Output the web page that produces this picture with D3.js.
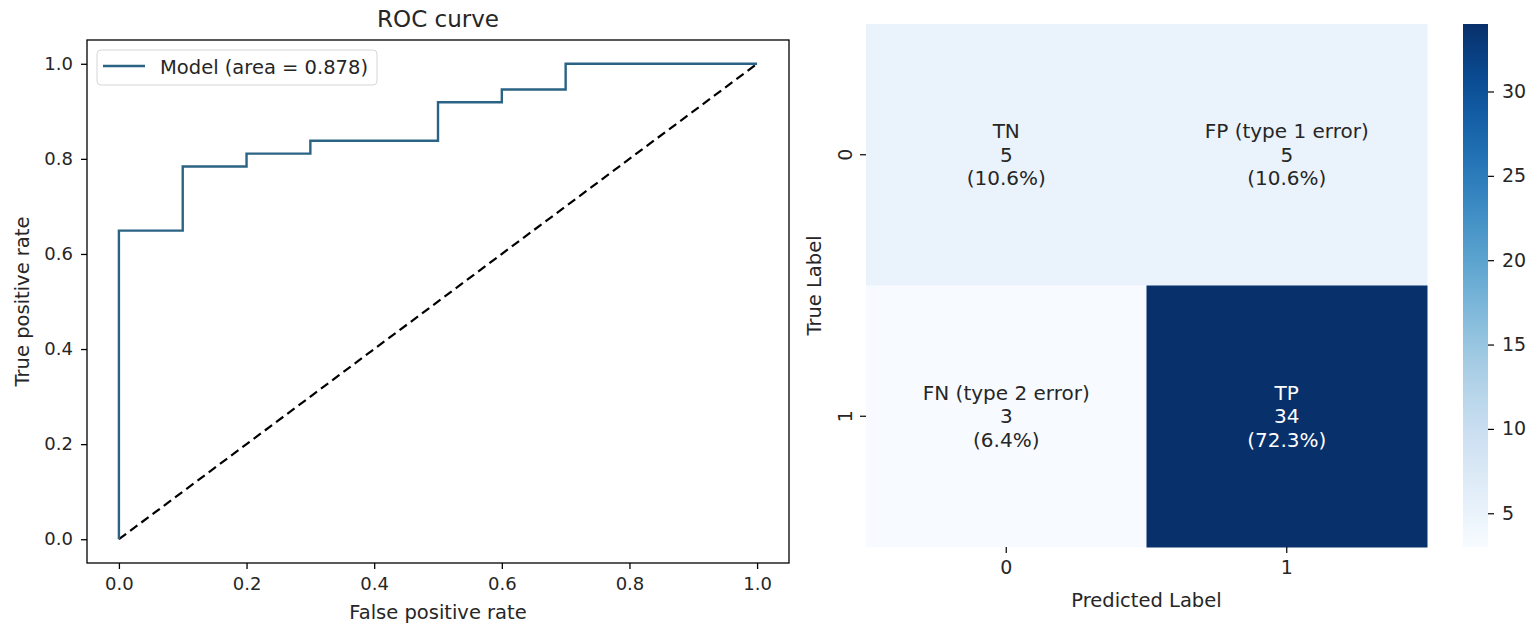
<!DOCTYPE html>
<html>
<head>
<meta charset="utf-8">
<script src="https://cdn.jsdelivr.net/npm/d3@7"></script>
<style>
  html, body { margin: 0; padding: 0; background: #fff; }
  svg { display: block; font-family: "DejaVu Sans", sans-serif; }
</style>
</head>
<body>
<svg id="chart" width="1535" height="631"></svg>
<script>
// ---------- Data ----------
const rocFpr = [0, 0, 0.1, 0.1, 0.2, 0.2, 0.3, 0.3, 0.5, 0.5, 0.6, 0.6, 0.7, 0.7, 1.0];
const rocTpr = [0, 0.649, 0.649, 0.784, 0.784, 0.811, 0.811, 0.838, 0.838, 0.919, 0.919, 0.946, 0.946, 1.0, 1.0];
const rocTicks = [0, 0.2, 0.4, 0.6, 0.8, 1.0];
const legendLabel = "Model (area = 0.878)";

const cmRowLabels = ["0", "1"];
const cmColLabels = ["0", "1"];
const cmNames = [["TN", "FP (type 1 error)"], ["FN (type 2 error)", "TP"]];
const cmCounts = [[5, 5], [3, 34]];
const cbarTicks = [5, 10, 15, 20, 25, 30];

// ---------- Setup ----------
const svg = d3.select("#chart");
const TICK_FS = 18;
const LABEL_FS = 19.5;
const textCol = "#262626";

// ---------- ROC chart ----------
const L = {left: 87, right: 789, top: 40, bottom: 563};
const x = d3.scaleLinear().domain([-0.05, 1.05]).range([L.left, L.right]);
const y = d3.scaleLinear().domain([-0.05, 1.05]).range([L.bottom, L.top]);

const g1 = svg.append("g");

// diagonal
g1.append("line")
  .attr("x1", x(0)).attr("y1", y(0)).attr("x2", x(1)).attr("y2", y(1))
  .attr("stroke", "#000").attr("stroke-width", 2.2)
  .attr("stroke-dasharray", "9,5");

// roc line
const rocPts = rocFpr.map((f, i) => [f, rocTpr[i]]);
g1.append("path")
  .attr("d", d3.line().x(d => x(d[0])).y(d => y(d[1]))(rocPts))
  .attr("fill", "none").attr("stroke", "#2b6385").attr("stroke-width", 2.4);

// axes
const xAxis = d3.axisBottom(x).tickValues(rocTicks).tickFormat(d3.format(".1f")).tickSize(6).tickPadding(8);
const yAxis = d3.axisLeft(y).tickValues(rocTicks).tickFormat(d3.format(".1f")).tickSize(6).tickPadding(8);
const gx = g1.append("g").attr("transform", `translate(0,${L.bottom})`).call(xAxis);
const gy = g1.append("g").attr("transform", `translate(${L.left},0)`).call(yAxis);
[gx, gy].forEach(a => {
  a.select(".domain").remove();
  a.selectAll("line").attr("stroke", "#000").attr("stroke-width", 1.3);
  a.selectAll("text").attr("font-size", TICK_FS).attr("fill", textCol).attr("font-family", "DejaVu Sans");
});

// frame
g1.append("rect")
  .attr("x", L.left).attr("y", L.top)
  .attr("width", L.right - L.left).attr("height", L.bottom - L.top)
  .attr("fill", "none").attr("stroke", "#000").attr("stroke-width", 1.3);

// title & labels
g1.append("text").attr("x", (L.left + L.right) / 2).attr("y", 27)
  .attr("text-anchor", "middle").attr("font-size", 23).attr("fill", textCol).text("ROC curve");
g1.append("text").attr("x", (L.left + L.right) / 2).attr("y", 619)
  .attr("text-anchor", "middle").attr("font-size", LABEL_FS).attr("fill", textCol).text("False positive rate");
g1.append("text").attr("transform", `translate(29,${(L.top + L.bottom) / 2}) rotate(-90)`)
  .attr("text-anchor", "middle").attr("font-size", LABEL_FS).attr("fill", textCol).text("True positive rate");

// legend
const lg = g1.append("g");
lg.append("rect").attr("x", 97).attr("y", 50).attr("width", 280).attr("height", 35)
  .attr("rx", 4).attr("fill", "#fff").attr("fill-opacity", 0.8)
  .attr("stroke", "#d6d6d6").attr("stroke-width", 1);
lg.append("line").attr("x1", 103).attr("x2", 145).attr("y1", 66).attr("y2", 66)
  .attr("stroke", "#2b6385").attr("stroke-width", 2.4);
lg.append("text").attr("x", 160).attr("y", 73.5).attr("font-size", LABEL_FS).attr("fill", textCol).text(legendLabel);

// ---------- Confusion matrix ----------
const H = {left: 866, right: 1427, top: 24, bottom: 547};
const hx = d3.scaleBand().domain(cmColLabels).range([H.left, H.right]);
const hy = d3.scaleBand().domain(cmRowLabels).range([H.top, H.bottom]);
const allCounts = cmCounts.flat();
const total = d3.sum(allCounts);
const vmin = d3.min(allCounts), vmax = d3.max(allCounts);
const color = d3.scaleSequential(d3.interpolateBlues).domain([vmin, vmax]);

const g2 = svg.append("g");
const cells = [];
cmRowLabels.forEach((r, i) => cmColLabels.forEach((c, j) => {
  cells.push({r, c, name: cmNames[i][j], v: cmCounts[i][j]});
}));

g2.selectAll("rect.cell").data(cells).enter().append("rect")
  .attr("class", "cell")
  .attr("x", d => hx(d.c)).attr("y", d => hy(d.r))
  .attr("width", hx.bandwidth() + 0.5).attr("height", hy.bandwidth() + 0.5)
  .attr("fill", d => color(d.v));

const cellText = g2.selectAll("text.cell").data(cells).enter().append("text")
  .attr("class", "cell")
  .attr("text-anchor", "middle")
  .attr("font-size", 20)
  .attr("fill", d => (d.v - vmin) / (vmax - vmin) > 0.6 ? "#ffffff" : textCol);
cellText.each(function(d) {
  const cx = hx(d.c) + hx.bandwidth() / 2;
  const cy = hy(d.r) + hy.bandwidth() / 2;
  const lines = [d.name, String(d.v), `(${(d.v / total * 100).toFixed(1)}%)`];
  lines.forEach((t, k) => {
    d3.select(this).append("tspan").attr("x", cx).attr("y", cy + (k - 1) * 23.5 + 7).text(t);
  });
});

// heatmap axes
const hxAxis = d3.axisBottom(hx).tickSize(6).tickPadding(8);
const hyAxis = d3.axisLeft(hy).tickSize(6).tickPadding(8);
const ghx = g2.append("g").attr("transform", `translate(0,${H.bottom})`).call(hxAxis);
const ghy = g2.append("g").attr("transform", `translate(${H.left},0)`).call(hyAxis);
[ghx, ghy].forEach(a => {
  a.select(".domain").remove();
  a.selectAll("line").attr("stroke", "#000").attr("stroke-width", 1.2);
  a.selectAll("text").attr("font-size", 19).attr("fill", textCol).attr("font-family", "DejaVu Sans");
});
ghy.selectAll(".tick text")
  .attr("text-anchor", "middle")
  .attr("dy", null)
  .attr("x", null)
  .attr("transform", "translate(-21,0) rotate(-90)")
  .attr("dominant-baseline", "central");

g2.append("text").attr("x", (H.left + H.right) / 2).attr("y", 607)
  .attr("text-anchor", "middle").attr("font-size", LABEL_FS).attr("fill", textCol).text("Predicted Label");
g2.append("text").attr("transform", `translate(821,${(H.top + H.bottom) / 2}) rotate(-90)`)
  .attr("text-anchor", "middle").attr("font-size", LABEL_FS).attr("fill", textCol).text("True Label");

// ---------- Colorbar ----------
const C = {left: 1463, right: 1488, top: 24, bottom: 547};
const cy = d3.scaleLinear().domain([vmin, vmax]).range([C.bottom, C.top]);
const defs = svg.append("defs");
const grad = defs.append("linearGradient").attr("id", "cbar")
  .attr("x1", 0).attr("y1", 1).attr("x2", 0).attr("y2", 0);
d3.range(0, 1.0001, 0.05).forEach(t => {
  grad.append("stop").attr("offset", t).attr("stop-color", d3.interpolateBlues(t));
});
svg.append("rect").attr("x", C.left).attr("y", C.top)
  .attr("width", C.right - C.left).attr("height", C.bottom - C.top)
  .attr("fill", "url(#cbar)");
const cAxis = d3.axisRight(cy).tickValues(cbarTicks).tickSize(6).tickPadding(8);
const gc = svg.append("g").attr("transform", `translate(${C.right},0)`).call(cAxis);
gc.select(".domain").remove();
gc.selectAll("line").attr("stroke", "#000").attr("stroke-width", 1.2);
gc.selectAll("text").attr("font-size", 19).attr("fill", textCol).attr("font-family", "DejaVu Sans");
</script>
</body>
</html>
